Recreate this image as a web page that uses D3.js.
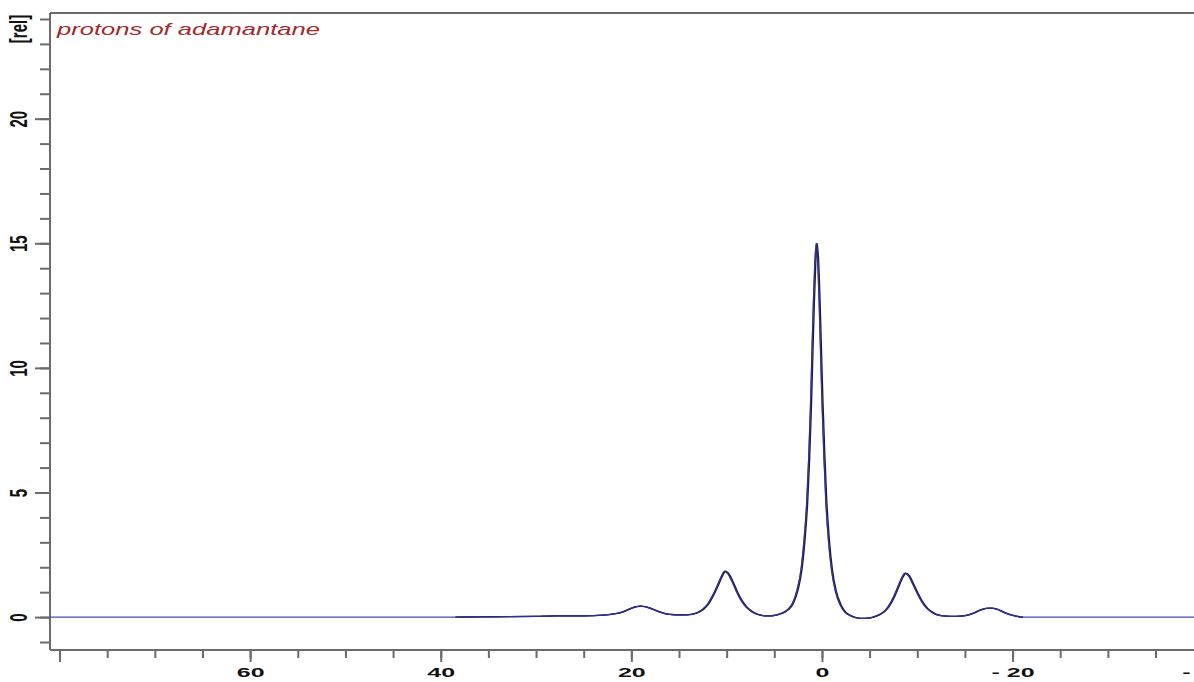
<!DOCTYPE html>
<html>
<head>
<meta charset="utf-8">
<script src="https://cdn.jsdelivr.net/npm/d3@7/dist/d3.min.js"></script>
<style>
  body { margin: 0; background: #fff; overflow: hidden; }
  svg { display: block; }
</style>
</head>
<body>
<div id="chart"></div>
<script>
// Spectrum data (ppm, relative intensity)
var shiftPpm = [38.5, 36, 33, 30, 28, 26, 24, 23, 22, 21, 20.5, 20, 19.5, 19.1, 18.6, 18, 17.5, 17, 16.5, 16,
  15, 14.5, 14, 13.5, 13, 12.5, 12, 11.5, 11, 10.6, 10.2, 9.8, 9.4, 9, 8.5, 8, 7.5, 7, 6.5, 6,
  5.5, 5, 4.5, 4, 3.6, 3.1, 2.6, 2.2, 1.9, 1.6, 1.4, 1.2, 1.05, 0.9, 0.75, 0.6, 0.45, 0.3, 0.15, 0,
  -0.2, -0.4, -0.7, -1.0, -1.4, -1.9, -2.4, -3, -3.5, -4, -4.5, -5, -5.5, -6, -6.5, -7, -7.5, -8, -8.4, -8.7,
  -9.1, -9.5, -10, -10.5, -11, -11.5, -12, -13, -14, -15, -15.8, -16.5, -17.2, -17.7, -18.3, -19, -19.7, -20.3, -21];
var intensity = [0, 0.01, 0.02, 0.03, 0.05, 0.05, 0.06, 0.08, 0.12, 0.2, 0.28, 0.36, 0.42, 0.44, 0.42, 0.35, 0.27, 0.2, 0.14, 0.11,
  0.09, 0.09, 0.1, 0.13, 0.2, 0.32, 0.52, 0.85, 1.25, 1.6, 1.84, 1.7, 1.4, 1.05, 0.68, 0.42, 0.25, 0.14, 0.08, 0.05,
  0.05, 0.07, 0.12, 0.2, 0.3, 0.55, 1.1, 1.9, 3.0, 4.6, 6.3, 8.5, 10.6, 12.6, 14.2, 15.0, 14.3, 12.7, 10.7, 8.7,
  6.5, 4.7, 3.0, 1.9, 1.05, 0.5, 0.2, 0.05, -0.02, -0.05, -0.05, -0.03, 0.02, 0.1, 0.22, 0.45, 0.8, 1.25, 1.6, 1.76,
  1.65, 1.35, 0.95, 0.6, 0.35, 0.2, 0.1, 0.04, 0.03, 0.06, 0.15, 0.27, 0.35, 0.36, 0.32, 0.2, 0.1, 0.04, 0];

// Full plotted window (baseline trace spans it)
var xWindow = [81, -39.5];
var yWindow = [-1.32, 24.24];

// Tick values and labels
var xMajorTicks = [80, 60, 40, 20, 0, -20, -40];
var xMajorLabels = ["", "60", "40", "20", "0", "- 20", "- 40"];
var xMinorTicks = d3.range(80, -41, -5);
var yMajorTicks = [0, 5, 10, 15, 20];
var yMinorTicks = d3.range(-1, 25, 1);

var titleText = "protons of adamantane";
var yUnitText = "[rel]";

// SVG parameter setup
var svgWidth = 1194;
var svgHeight = 682;
var margin = { top: 13, left: 50, bottom: 32 };
var plotRight = 1198.4;
var plotBottom = svgHeight - margin.bottom;

var svg = d3.select("#chart").append("svg")
  .attr("width", svgWidth)
  .attr("height", svgHeight);

// Scales: ppm axis runs right to left
var xScale = d3.scaleLinear().domain(xWindow).range([margin.left, plotRight]);
var yScale = d3.scaleLinear().domain(yWindow).range([plotBottom, margin.top]);

var axisColor = "#6b6b6b";
var labelFont = "'Liberation Sans', Arial, sans-serif";

// Top frame line
svg.append("line")
  .attr("x1", margin.left).attr("x2", svgWidth + 10)
  .attr("y1", margin.top).attr("y2", margin.top)
  .attr("stroke", axisColor).attr("stroke-width", 2);

// X axis, minor and major ticks
var xMinorAxis = svg.append("g")
  .attr("transform", `translate(0, ${plotBottom})`)
  .call(d3.axisBottom(xScale).tickValues(xMinorTicks).tickSize(8).tickFormat(""));

var xMajorAxis = svg.append("g")
  .attr("transform", `translate(0, ${plotBottom})`)
  .call(d3.axisBottom(xScale).tickValues(xMajorTicks).tickSize(12)
    .tickFormat((d, i) => xMajorLabels[i]));

xMajorAxis.selectAll("text")
  .attr("y", 27).attr("dy", 0)
  .attr("transform", "scale(1.85,1)")
  .attr("fill", "#111")
  .style("font-family", labelFont)
  .style("font-weight", "bold")
  .style("font-size", "13.5px");

// Y axis, minor and major ticks
var yMinorAxis = svg.append("g")
  .attr("transform", `translate(${margin.left}, 0)`)
  .call(d3.axisLeft(yScale).tickValues(yMinorTicks).tickSize(10).tickFormat(""));

var yMajorAxis = svg.append("g")
  .attr("transform", `translate(${margin.left}, 0)`)
  .call(d3.axisLeft(yScale).tickValues(yMajorTicks).tickSize(15));

yMajorAxis.selectAll("text")
  .attr("x", 0).attr("dy", 0)
  .attr("text-anchor", "middle")
  .attr("transform", "translate(-23,0) scale(1.65,1) rotate(-90)")
  .attr("fill", "#111")
  .style("font-family", labelFont)
  .style("font-weight", "bold")
  .style("font-size", "15px");

[xMinorAxis, xMajorAxis, yMinorAxis, yMajorAxis].forEach(function(g) {
  g.selectAll(".domain").attr("stroke", axisColor).attr("stroke-width", 2);
  g.selectAll(".tick line").attr("stroke", axisColor).attr("stroke-width", 2);
});
xMinorAxis.select(".domain").attr("d", `M${margin.left},0H${svgWidth + 10}`);
xMajorAxis.select(".domain").remove();
yMajorAxis.select(".domain").remove();
yMinorAxis.select(".domain").attr("d", `M0,${margin.top}V${plotBottom}`);

// Unit label [rel]
svg.append("text")
  .attr("transform", `translate(27, 29) scale(1.6,1) rotate(-90)`)
  .attr("text-anchor", "middle")
  .attr("fill", "#111")
  .style("font-family", labelFont)
  .style("font-weight", "bold")
  .style("font-size", "15px")
  .text(yUnitText);

// Title
svg.append("text")
  .attr("x", 57).attr("y", 35)
  .attr("textLength", 263)
  .attr("lengthAdjust", "spacingAndGlyphs")
  .attr("fill", "#a3282c")
  .style("font-family", labelFont)
  .style("font-style", "italic")
  .style("font-size", "17px")
  .text(titleText);

// Spectrum traces
var spectrum = shiftPpm.map((d, i) => ({ ppm: d, val: intensity[i] }));
var fullTrace = [{ ppm: xWindow[0], val: 0 }].concat(spectrum, [{ ppm: xWindow[1], val: 0 }]);

var line = d3.line()
  .x(d => xScale(d.ppm))
  .y(d => yScale(d.val))
  .curve(d3.curveMonotoneX);

var plot = svg.append("g");

plot.append("path")
  .datum(fullTrace)
  .attr("d", line)
  .attr("fill", "none")
  .attr("stroke", "#4a4ab8")
  .attr("stroke-width", 1.4);

plot.append("path")
  .datum(spectrum)
  .attr("transform", "translate(1,0)")
  .attr("d", line)
  .attr("fill", "none")
  .attr("stroke", "#202020")
  .attr("stroke-width", 1.3);

plot.append("path")
  .datum(spectrum)
  .attr("d", line)
  .attr("fill", "none")
  .attr("stroke", "#2e2e9e")
  .attr("stroke-width", 1.1);
</script>
</body>
</html>
